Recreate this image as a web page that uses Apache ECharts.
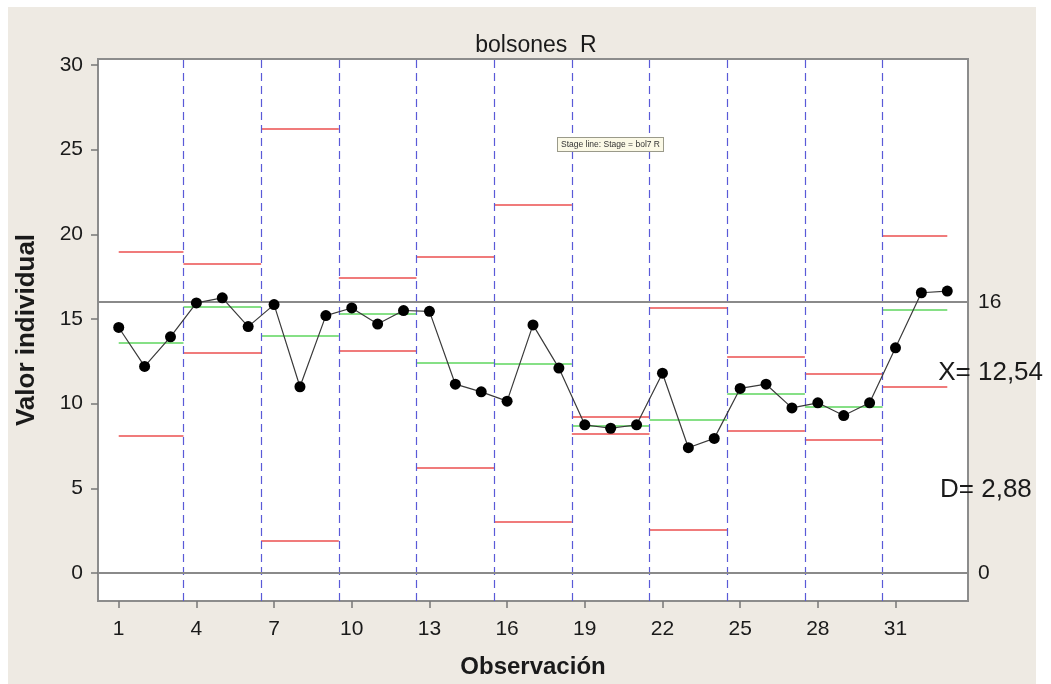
<!DOCTYPE html>
<html>
<head>
<meta charset="utf-8">
<script src="https://cdn.jsdelivr.net/npm/echarts@6/dist/echarts.min.js"></script>
<style>
  html, body { margin: 0; padding: 0; background: #ffffff; }
  #bg { position: absolute; left: 8px; top: 7px; width: 1028px; height: 677px; background: #eeeae3; }
  #chart { position: absolute; left: 0; top: 0; width: 1051px; height: 684px; }
</style>
</head>
<body>
<div id="bg"></div>
<div id="chart"></div>
<script>
// Observations 1..33
const observations = [
  14.5, 12.2, 13.95,
  15.95, 16.25, 14.55,
  15.85, 11.0, 15.2,
  15.65, 14.7, 15.5,
  15.45, 11.15, 10.7,
  10.15, 14.65, 12.1,
  8.75, 8.55, 8.75,
  11.8, 7.4, 7.95,
  10.9, 11.15, 9.75,
  10.05, 9.3, 10.05,
  13.3, 16.55, 16.65
];
// Stage limits (11 stages, 3 observations each)
const stageUCL    = [18.95, 18.25, 26.25, 17.45, 18.65, 21.75, 9.2, 15.65, 12.75, 11.75, 19.9];
const stageCenter = [13.6, 15.7, 14.0, 15.3, 12.4, 12.35, 8.7, 9.05, 10.6, 9.8, 15.55];
const stageLCL    = [8.1, 13.0, 1.9, 13.1, 6.2, 3.0, 8.2, 2.55, 8.4, 7.85, 11.0];
const stageSize = 3;
const xTicks = [1, 4, 7, 10, 13, 16, 19, 22, 25, 28, 31];
const yTicks = [0, 5, 10, 15, 20, 25, 30];
const refLines = [16, 0];
const annotations = [
  { text: 'X= 12,54', x: 32.65, y: 11.8 },
  { text: 'D= 2,88', x: 32.72, y: 4.9 }
];

const nObs = observations.length;
const pointData = observations.map((v, i) => [i + 1, v]);

function segs(arr) {
  return arr.map((v, k) => {
    const s = k * stageSize + 1, e = s + stageSize - 1;
    const x1 = Math.max(1, s - 0.5), x2 = Math.min(nObs, e + 0.5);
    return [{ coord: [x1, v] }, { coord: [x2, v] }];
  });
}
const boundaries = [];
for (let k = 1; k < stageUCL.length; k++) boundaries.push({ xAxis: k * stageSize + 0.5 });

const chart = echarts.init(document.getElementById('chart'));
const F = 'Liberation Sans, Arial, sans-serif';
chart.setOption({
  animation: false,
  textStyle: { fontFamily: F },
  title: {
    text: 'bolsones  R', left: 531, top: 29, textAlign: 'center',
    textStyle: { fontFamily: F, fontSize: 23, fontWeight: 'normal', color: '#1a1a1a' }
  },
  grid: {
    left: 98, right: 83, top: 59, bottom: 83,
    show: true, backgroundColor: '#ffffff', borderColor: '#8c8c8c', borderWidth: 2
  },
  xAxis: {
    type: 'value', min: 0.2, max: 33.8,
    name: 'Observación', nameLocation: 'middle', nameGap: 54,
    nameTextStyle: { fontFamily: F, fontSize: 24, fontWeight: 'bold', color: '#1a1a1a' },
    axisLine: { show: false, onZero: false },
    splitLine: { show: false },
    axisTick: { show: true, customValues: xTicks, length: 7, lineStyle: { color: '#777', width: 1.5 } },
    axisLabel: { customValues: xTicks, fontSize: 21, color: '#1a1a1a', margin: 18, fontFamily: F }
  },
  yAxis: {
    type: 'value', min: -1.65, max: 30.35,
    name: 'Valor individual', nameLocation: 'middle', nameGap: 58, nameRotate: 90,
    nameTextStyle: { fontFamily: F, fontSize: 26, fontWeight: 'bold', color: '#1a1a1a' },
    axisLine: { show: false, onZero: false },
    splitLine: { show: false },
    axisTick: { show: true, customValues: yTicks, length: 7, lineStyle: { color: '#777', width: 1.5 } },
    axisLabel: { customValues: yTicks, fontSize: 21, color: '#1a1a1a', margin: 15, fontFamily: F }
  },
  series: [
    {
      type: 'line', name: 'limits', data: [], silent: true,
      markLine: {
        silent: true, symbol: 'none', animation: false,
        label: { show: false },
        lineStyle: { color: '#f07b7b', width: 2, type: 'solid' },
        data: segs(stageUCL).concat(segs(stageLCL))
      }
    },
    {
      type: 'line', name: 'center', data: [], silent: true,
      markLine: {
        silent: true, symbol: 'none', animation: false,
        label: { show: false },
        lineStyle: { color: '#86e086', width: 2, type: 'solid' },
        data: segs(stageCenter)
      }
    },
    {
      type: 'line', name: 'stages', data: [], silent: true,
      markLine: {
        silent: true, symbol: 'none', animation: false,
        label: { show: false },
        lineStyle: { color: '#5a5ad8', width: 1.2, type: [8, 5] },
        data: boundaries
      }
    },
    {
      type: 'line', name: 'ref', data: [], silent: true,
      markLine: {
        silent: true, symbol: 'none', animation: false,
        lineStyle: { color: '#8a8a8a', width: 2, type: 'solid' },
        label: { show: true, position: 'end', distance: 10, fontSize: 21, color: '#1a1a1a', fontFamily: F,
                 formatter: p => String(p.value) },
        data: refLines.map(v => ({ yAxis: v }))
      },
      markPoint: {
        silent: true, symbol: 'circle', symbolSize: 0,
        label: { show: true, position: 'right', distance: 0, fontSize: 26, color: '#1a1a1a', fontFamily: F,
                 formatter: p => p.name },
        data: annotations.map(a => ({ name: a.text, coord: [a.x, a.y] }))
      }
    },
    {
      type: 'line', name: 'obs', data: pointData, z: 5,
      symbol: 'circle', symbolSize: 11, showSymbol: true,
      itemStyle: { color: '#000000' },
      lineStyle: { color: '#3a3a3a', width: 1.2 },
      connectNulls: false
    }
  ],
  graphic: [
    {
      type: 'text', left: 557, top: 137, z: 10,
      style: {
        text: 'Stage line: Stage = bol7 R', fontSize: 8.5, fontFamily: F, fill: '#333',
        backgroundColor: '#fbf9e6', borderColor: '#9a9a8a', borderWidth: 1, padding: [2, 3]
      }
    }
  ]
});
</script>
</body>
</html>
